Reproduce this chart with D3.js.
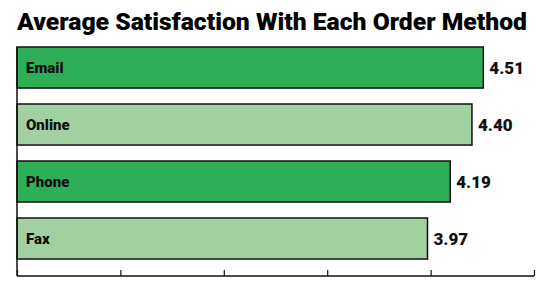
<!DOCTYPE html>
<html>
<head>
<meta charset="utf-8">
<script src="https://cdn.jsdelivr.net/npm/d3@7"></script>
<style>
  body { margin: 0; background: #fff; }
  text { font-family: Roboto, "DejaVu Sans", sans-serif; }
</style>
</head>
<body>
<svg id="chart"></svg>
<script>
const methods = ["Email", "Online", "Phone", "Fax"];
const scores = [4.51, 4.40, 4.19, 3.97];
const barColors = ["#2eae57", "#a1d1a1", "#2eae57", "#a1d1a1"];
const ticks = [0, 1, 2, 3, 4, 5];

const width = 550, height = 287;
const margin = { left: 17, right: 534, top: 47, bottom: 276 };

const svg = d3.select('#chart')
  .attr('width', width)
  .attr('height', height);

svg.append('text')
  .attr('x', 17)
  .attr('y', 30)
  .style('font-size', '24px')
  .style('font-weight', 900)
  .attr('textLength', 510)
  .attr('lengthAdjust', 'spacingAndGlyphs')
  .text('Average Satisfaction With Each Order Method');

const x = d3.scaleLinear()
  .domain([0, 5])
  .range([margin.left, margin.right]);

const y = d3.scaleBand()
  .domain(methods)
  .range([margin.top, margin.top + 57 * 3.72])
  .paddingInner(0.28)
  .paddingOuter(0);

// bars
const bar = svg.selectAll('.bar')
  .data(methods)
  .enter().append('g')
  .attr('class', 'bar');

bar.append('rect')
  .attr('x', margin.left)
  .attr('y', d => y(d))
  .attr('width', (d, i) => x(scores[i]) - margin.left)
  .attr('height', y.bandwidth())
  .style('fill', (d, i) => barColors[i])
  .style('stroke', '#111')
  .style('stroke-width', 1.5);

bar.append('text')
  .attr('x', margin.left + 9)
  .attr('y', d => y(d) + y.bandwidth() / 2)
  .attr('dy', '0.36em')
  .style('font-size', '15px')
  .style('font-weight', 900)
  .style('fill', '#111')
  .text(d => d);

bar.append('text')
  .attr('x', (d, i) => x(scores[i]) + 6)
  .attr('y', d => y(d) + y.bandwidth() / 2)
  .attr('dy', '0.36em')
  .style('font-size', '17px')
  .style('font-weight', 900)
  .style('fill', '#111')
  .text((d, i) => scores[i].toFixed(2));

// axes
const xAxis = d3.axisTop(x)
  .tickValues(ticks)
  .tickSize(6)
  .tickFormat('');

const gx = svg.append('g')
  .attr('transform', `translate(0, ${margin.bottom})`)
  .call(xAxis);
gx.select('.domain').remove();
gx.append('line')
  .attr('x1', margin.left).attr('x2', margin.right)
  .attr('stroke', '#111').attr('stroke-width', 1.5);
gx.selectAll('.tick line').attr('stroke', '#111').attr('stroke-width', 1.2);

svg.append('line')
  .attr('x1', margin.left).attr('x2', margin.left)
  .attr('y1', margin.top).attr('y2', margin.bottom)
  .attr('stroke', '#111').attr('stroke-width', 1.5);
</script>
</body>
</html>
